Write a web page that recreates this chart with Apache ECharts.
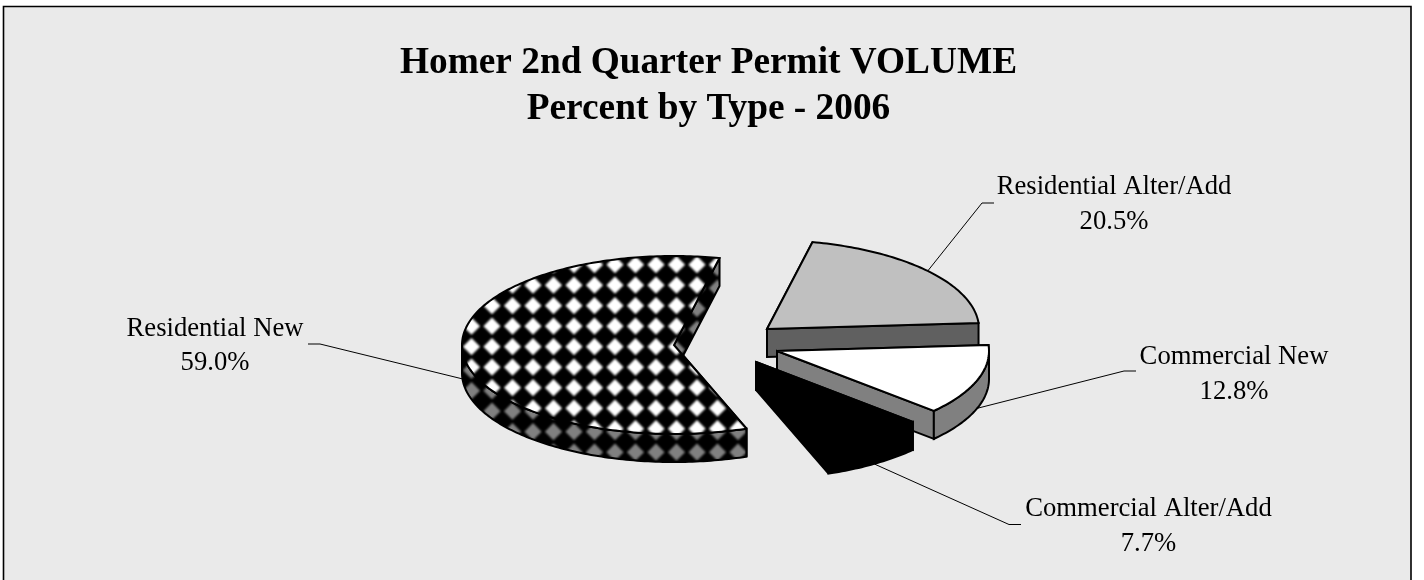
<!DOCTYPE html>
<html><head><meta charset="utf-8">
<script src="https://cdn.jsdelivr.net/npm/echarts@6/dist/echarts.min.js"></script>
<style>html,body{margin:0;padding:0;background:#fff}#c{width:1424px;height:580px}</style>
</head><body><div id="c"></div>
<script>
const categories = ["Residential New", "Residential Alter/Add", "Commercial New", "Commercial Alter/Add"];
const percents = [59.0, 20.5, 12.8, 7.7];
const titleLines = ["Homer 2nd Quarter Permit VOLUME", "Percent by Type - 2006"];

// layout only
const RX = 212, RY = 89, DEPTH = 28, START = -70;
const apexes = [[674,345],[767,329],[777,351],[756,362]];
const elbows = [[[308,344],[320,344]],[[994,203],[982,203]],[[1136,371],[1124,371]],[[1021,524.5],[1009,524.5]]];
const labelCentres = [[215,328.5,362.5],[1114,186.5,221.5],[1234,356.5,391.5],[1148.5,508.5,543.5]];

function tile(bg, fg, phaseX, phaseY) {
  const c = document.createElement('canvas'); c.width = 41; c.height = 41;
  const g = c.getContext('2d');
  g.fillStyle = bg; g.fillRect(0,0,41,41);
  g.fillStyle = fg;
  g.filter = 'blur(0.8px)';
  for (let i=-1;i<3;i++) for (let j=-1;j<3;j++) {
    const x = phaseX + i*20.5, y = phaseY + j*20.5, r = 8.6;
    g.beginPath(); g.moveTo(x-r,y); g.lineTo(x,y-r); g.lineTo(x+r,y); g.lineTo(x,y+r); g.closePath(); g.fill();
  }
  return c;
}
// pattern tile is anchored to the page origin
const checkerTop = {image: tile('#000','#fff', 471.5%20.5, 346.7%20.5), repeat:'repeat'};
const checkerSide = {image: tile('#000','#808080', 471.5%20.5, 349.7%20.5), repeat:'repeat'};
const topFills = [checkerTop, '#C0C0C0', '#FFFFFF', '#000000'];
const sideFills = [checkerSide, '#606060', '#808080', '#000000'];

const total = percents.reduce((a,b)=>a+b,0);
const spans = []; let cursor = START;
percents.forEach(v => { const s = v/total*360; spans.push([cursor, cursor - s]); cursor -= s; });

const pt = (a,t,dz=0) => { const r = t*Math.PI/180; return [a[0]+RX*Math.cos(r), a[1]-RY*Math.sin(r)+dz]; };
const arc = (a,t0,t1,dz=0) => { const n = Math.max(2,Math.ceil(Math.abs(t1-t0))), o=[]; for(let i=0;i<=n;i++) o.push(pt(a,t0+(t1-t0)*i/n,dz)); return o; };

function renderItem(params, api) {
  const i = params.dataIndex, a = apexes[i], [t0,t1] = spans[i];
  const stroke = {stroke:'#000', lineWidth:2, lineJoin:'miter', miterLimit:2};
  const kids = [];
  const poly = (points, fill) => kids.push({type:'polygon', shape:{points}, style:Object.assign({fill}, stroke)});
  // cut walls
  [t0,t1].forEach(t => { const e = pt(a,t); poly([a, e, [e[0],e[1]+DEPTH], [a[0],a[1]+DEPTH]], sideFills[i]); });
  // outer wall: only the part of the arc on the near (lower) half, in either turn of the circle
  [0,-360].forEach(turn => {
    const lo = Math.max(t1, turn-180), hi = Math.min(t0, turn);
    if (lo < hi) poly(arc(a,hi,lo).concat(arc(a,lo,hi,DEPTH)), sideFills[i]);
  });
  // top face
  poly([a].concat(arc(a,t0,t1)), topFills[i]);
  return {type:'group', children:kids};
}
function renderLabel(params, api) {
  const i = params.dataIndex, a = apexes[i], [t0,t1] = spans[i];
  const mid = (t0+t1)/2;
  const e = pt(a, mid, Math.sin(mid*Math.PI/180) < 0 ? DEPTH : 0);
  const lc = labelCentres[i];
  const font = '26.67px "Liberation Serif"';
  return {type:'group', children:[
    {type:'polyline', shape:{points:[elbows[i][0], elbows[i][1], e]}, style:{stroke:'#000', lineWidth:1, fill:null}},
    {type:'text', x:lc[0], y:lc[1], style:{text:categories[i], font, fill:'#000', textAlign:'center', textVerticalAlign:'middle'}},
    {type:'text', x:lc[0], y:lc[2], style:{text:percents[i].toFixed(1)+'%', font, fill:'#000', textAlign:'center', textVerticalAlign:'middle'}}
  ]};
}
const chart = echarts.init(document.getElementById('c'), null, {renderer:'canvas'});
chart.setOption({
  animation:false,
  backgroundColor:'#fff',
  title:{text:titleLines.join('\n'), left:703.5, top:35, textAlign:'center',
    textStyle:{fontFamily:'"Liberation Serif"', fontWeight:'bold', fontSize:37.33, lineHeight:46.5, color:'#000'}},
  graphic:[{type:'rect', z:-10, shape:{x:3.5,y:6.5,width:1407.5,height:600}, style:{fill:'#EAEAEA', stroke:'#000', lineWidth:1.6}}],
  series:[
    {type:'custom', coordinateSystem:'none', z:1, silent:true, data:categories.map((c,i)=>[i]), renderItem:renderLabel},
    {type:'custom', coordinateSystem:'none', z:2, silent:true, data:percents.map(v=>[v]), renderItem}
  ]
});
</script></body></html>
